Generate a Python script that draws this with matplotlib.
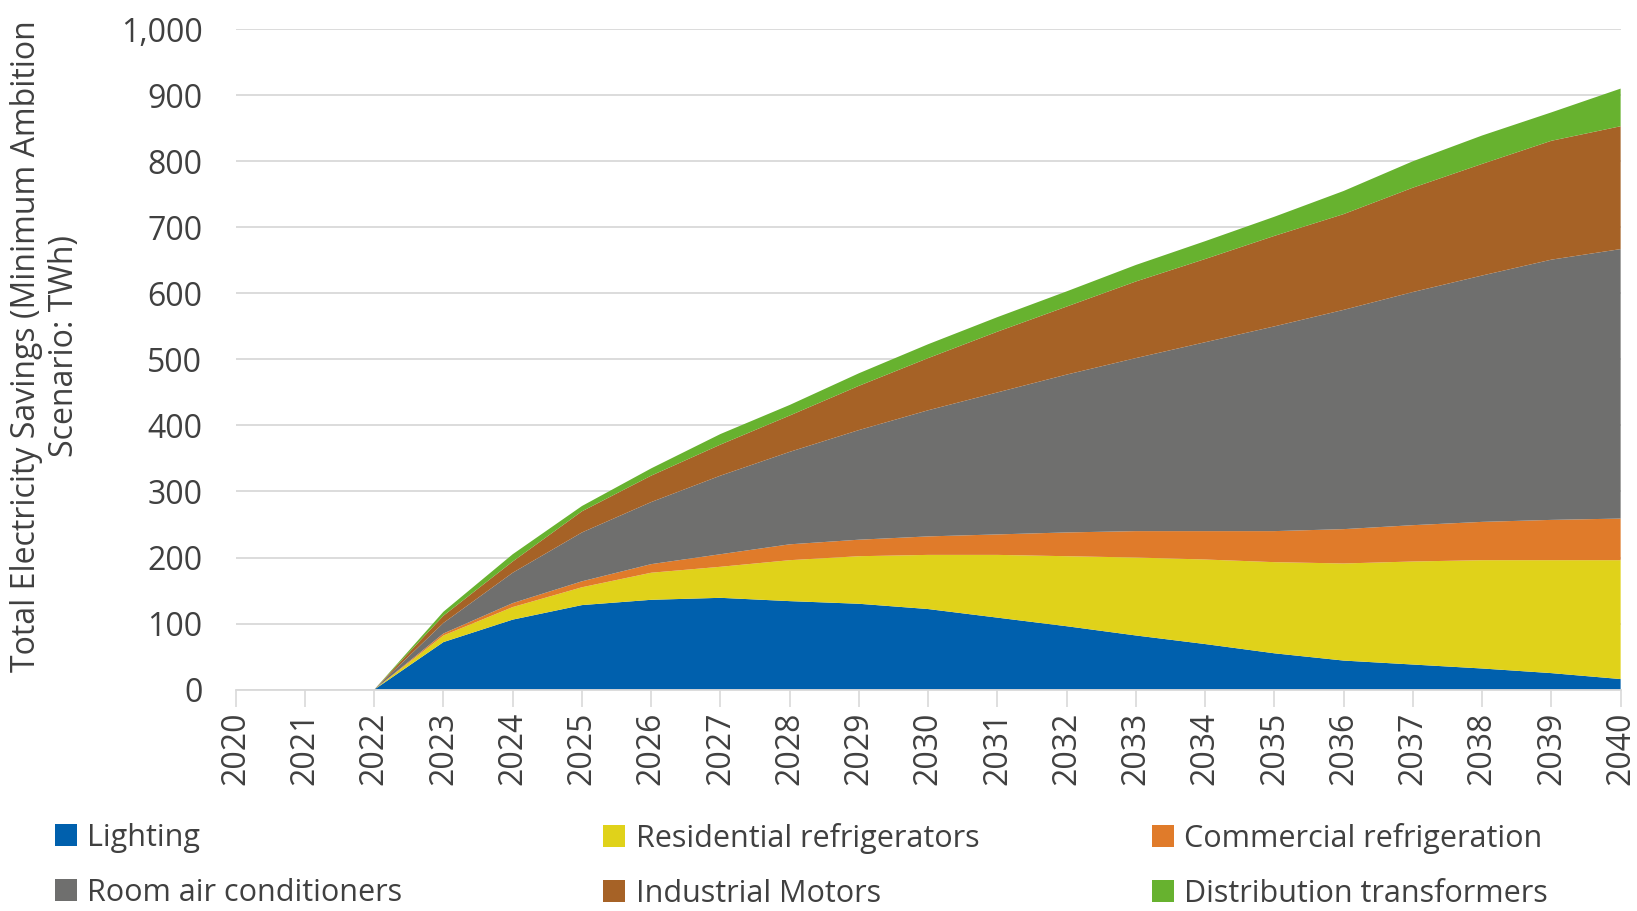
import matplotlib.pyplot as plt
import numpy as np

years = list(range(2020, 2041))
lighting = [0, 0, 0, 72, 106, 128, 136, 139, 134, 130, 122, 109, 96, 82, 69, 55, 44, 38, 32, 25, 16]
res_fridge_top = [0, 0, 0, 82, 125, 155, 177, 186, 196, 202, 204, 204, 202, 200, 197, 193, 191, 194, 196, 196, 196]
comm_fridge_top = [0, 0, 0, 85, 131, 164, 190, 205, 220, 227, 232, 235, 238, 240, 240, 240, 243, 249, 254, 257, 259]
room_ac_top = [0, 0, 0, 101, 177, 238, 284, 324, 360, 393, 423, 450, 477, 502, 526, 550, 575, 602, 627, 651, 667]
motors_top = [0, 0, 0, 112, 194, 270, 324, 371, 415, 460, 502, 542, 580, 618, 652, 687, 720, 760, 796, 831, 853]
transf_top = [0, 0, 0, 118, 205, 278, 335, 387, 431, 479, 523, 564, 603, 643, 679, 716, 755, 800, 839, 874, 910]

labels = ["Lighting", "Residential refrigerators", "Commercial refrigeration",
          "Room air conditioners", "Industrial Motors", "Distribution transformers"]
colors = ["#0060AD", "#E0D21A", "#E07B2A", "#6F6F6E", "#A66226", "#67B22F"]

tops = np.array([lighting, res_fridge_top, comm_fridge_top, room_ac_top, motors_top, transf_top], dtype=float)
series = np.diff(np.vstack([np.zeros(len(years)), tops]), axis=0)

plt.rcParams['font.family'] = ['Open Sans', 'DejaVu Sans']
txt = "#404040"

fig = plt.figure(figsize=(16.37, 9.11), dpi=100)
ax = fig.add_axes([0.144, 0.243, 0.846, 0.725])

polys = ax.stackplot(years, series, colors=colors, labels=labels, linewidth=0)

ax.set_xlim(2020, 2040)
ax.set_ylim(0, 1000)
ax.set_yticks(range(0, 1001, 100))
ax.set_yticklabels([f"{v:,}" for v in range(0, 1001, 100)], fontsize=23, color=txt)
ax.set_xticks(years)
ax.set_xticklabels([str(y) for y in years], rotation=90, fontsize=23, color=txt)
ax.tick_params(axis='y', length=0, pad=24)
ax.tick_params(axis='x', length=12, color="#D9D9D9", width=1.2, pad=4)
ax.grid(axis='y', color="#D9D9D9", linewidth=1.3)
ax.set_axisbelow(True)
for s in ['top', 'right', 'left']:
    ax.spines[s].set_visible(False)
ax.spines['bottom'].set_color("#D9D9D9")
ax.spines['bottom'].set_linewidth(1.3)

ax.set_ylabel("Total Electricity Savings (Minimum Ambition\nScenario: TWh)",
              fontsize=23, color=txt, linespacing=1.2)
ax.yaxis.set_label_coords(-0.112, 0.52)

# legend, one column at a time so the columns line up like the original
col_x = [0.026, 0.361, 0.696]
for i, x in enumerate(col_x):
    hs = [polys[i], polys[i + 3]]
    ls = [labels[i], labels[i + 3]]
    fig.legend(hs, ls, loc='upper left', bbox_to_anchor=(x, 0.110), frameon=False,
               fontsize=22, labelcolor=txt, handlelength=0.72, handleheight=0.72,
               handletextpad=0.35, labelspacing=0.82, borderaxespad=0)

fig.savefig("out.png", dpi=100)
